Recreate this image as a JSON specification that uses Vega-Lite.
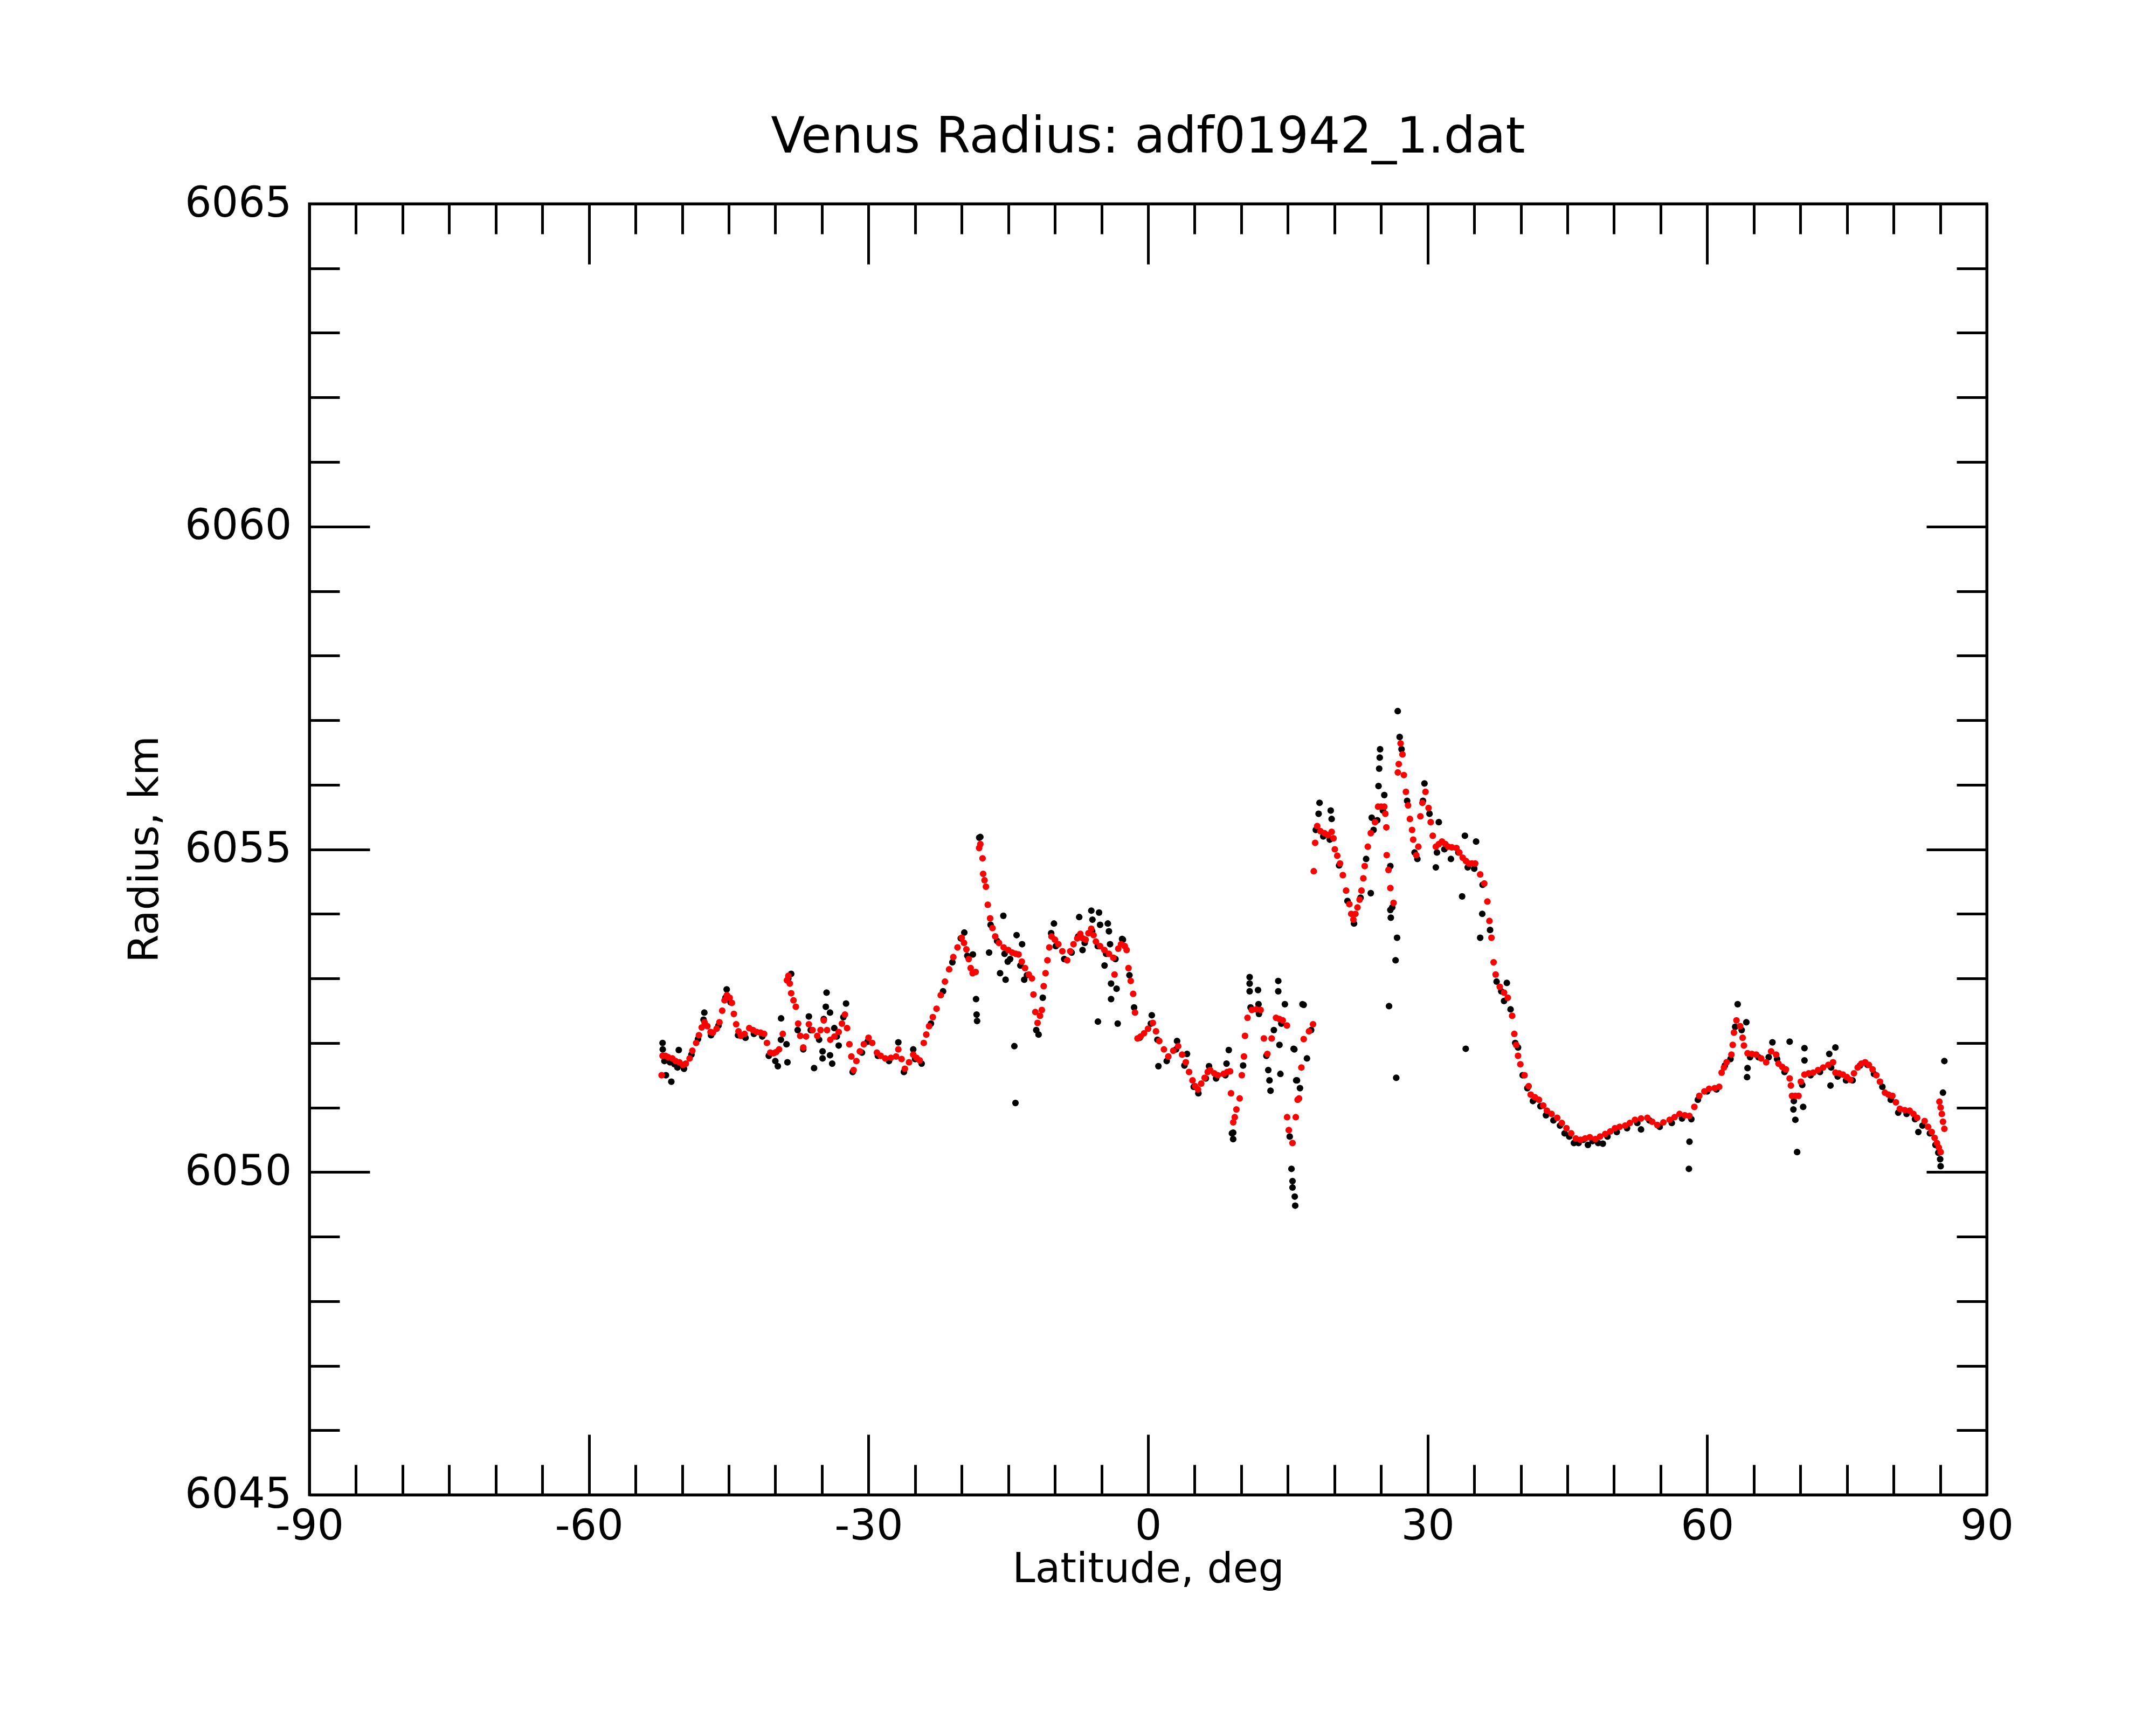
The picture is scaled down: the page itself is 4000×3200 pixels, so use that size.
{
  "$schema": "https://vega.github.io/schema/vega-lite/v6.json",
  "width": 3112,
  "height": 2395,
  "autosize": {"type": "none"},
  "padding": {"left": 574, "top": 378, "right": 314, "bottom": 427},
  "background": "white",
  "title": {
    "text": "Venus Radius: adf01942_1.dat",
    "font": "DejaVu Sans",
    "fontSize": 92,
    "fontWeight": "normal",
    "color": "black",
    "anchor": "middle",
    "baseline": "alphabetic",
    "offset": -36
  },
  "config": {
    "view": {"stroke": "black", "strokeWidth": 5},
    "axis": {
      "grid": false,
      "domainColor": "black",
      "domainWidth": 5,
      "tickColor": "black",
      "tickWidth": 5,
      "labelFont": "DejaVu Sans",
      "labelFontSize": 78,
      "labelColor": "black",
      "labelLimit": 0,
      "labelFlush": false,
      "labelOverlap": false,
      "titleFont": "DejaVu Sans",
      "titleFontSize": 76,
      "titleFontWeight": "normal",
      "titleColor": "black"
    }
  },
  "datasets": {
    "raw": [
      {"lat": -52.1, "radius": 6052.0}, {"lat": -52.08, "radius": 6051.9}, {"lat": -51.74, "radius": 6051.5}, {"lat": -51.16, "radius": 6051.4},
      {"lat": -50.82, "radius": 6051.67}, {"lat": -50.36, "radius": 6051.89}, {"lat": -47.62, "radius": 6052.47}, {"lat": -45.22, "radius": 6052.83},
      {"lat": -39.73, "radius": 6051.64}, {"lat": -39.38, "radius": 6052.38}, {"lat": -38.8, "radius": 6051.98}, {"lat": -38.7, "radius": 6051.7},
      {"lat": -38.3, "radius": 6053.07}, {"lat": -37.0, "radius": 6051.9}, {"lat": -36.4, "radius": 6052.41}, {"lat": -35.84, "radius": 6051.61},
      {"lat": -34.93, "radius": 6051.87}, {"lat": -34.93, "radius": 6051.76}, {"lat": -34.8, "radius": 6052.37}, {"lat": -34.58, "radius": 6052.56},
      {"lat": -34.5, "radius": 6052.78}, {"lat": -34.13, "radius": 6052.47}, {"lat": -34.13, "radius": 6051.81}, {"lat": -33.9, "radius": 6051.68},
      {"lat": -33.67, "radius": 6052.23}, {"lat": -33.2, "radius": 6051.96}, {"lat": -32.41, "radius": 6052.61}, {"lat": -26.8, "radius": 6052.01},
      {"lat": -25.2, "radius": 6051.9}, {"lat": -19.72, "radius": 6053.71}, {"lat": -18.8, "radius": 6053.37}, {"lat": -18.46, "radius": 6052.68},
      {"lat": -18.4, "radius": 6052.44}, {"lat": -18.35, "radius": 6052.34}, {"lat": -18.12, "radius": 6055.18},
      {"lat": -18.0, "radius": 6055.19}, {"lat": -17.06, "radius": 6053.4}, {"lat": -15.53, "radius": 6053.97}, {"lat": -15.88, "radius": 6053.08},
      {"lat": -15.29, "radius": 6052.98}, {"lat": -15.06, "radius": 6053.26}, {"lat": -14.35, "radius": 6051.95}, {"lat": -14.23, "radius": 6051.07},
      {"lat": -14.11, "radius": 6053.67}, {"lat": -13.52, "radius": 6053.53}, {"lat": -13.29, "radius": 6052.98}, {"lat": -11.75, "radius": 6052.13},
      {"lat": -10.1, "radius": 6053.85}, {"lat": -7.39, "radius": 6053.95}, {"lat": -7.03, "radius": 6053.44}, {"lat": -6.09, "radius": 6054.05},
      {"lat": -5.97, "radius": 6053.91}, {"lat": -5.38, "radius": 6052.33}, {"lat": -5.26, "radius": 6054.02}, {"lat": -5.15, "radius": 6053.83},
      {"lat": -4.67, "radius": 6053.2}, {"lat": -4.32, "radius": 6053.85}, {"lat": -4.2, "radius": 6053.73}, {"lat": -4.08, "radius": 6053.53},
      {"lat": -3.97, "radius": 6052.92}, {"lat": -3.97, "radius": 6052.68}, {"lat": -3.38, "radius": 6052.84}, {"lat": -3.26, "radius": 6052.3},
      {"lat": -2.79, "radius": 6053.61}, {"lat": 0.4, "radius": 6052.43}, {"lat": 1.11, "radius": 6051.64}, {"lat": 3.11, "radius": 6052.03},
      {"lat": 4.18, "radius": 6051.83}, {"lat": 6.54, "radius": 6051.64}, {"lat": 8.42, "radius": 6051.68}, {"lat": 8.66, "radius": 6051.89},
      {"lat": 9.13, "radius": 6050.61}, {"lat": 9.13, "radius": 6050.51}, {"lat": 10.9, "radius": 6053.02}, {"lat": 10.9, "radius": 6052.92},
      {"lat": 10.9, "radius": 6052.8}, {"lat": 11.8, "radius": 6052.82}, {"lat": 11.85, "radius": 6052.6}, {"lat": 12.9, "radius": 6051.58},
      {"lat": 13.03, "radius": 6051.42}, {"lat": 13.14, "radius": 6051.26}, {"lat": 13.97, "radius": 6052.96}, {"lat": 13.97, "radius": 6052.8},
      {"lat": 14.1, "radius": 6051.97}, {"lat": 14.2, "radius": 6051.52}, {"lat": 14.68, "radius": 6052.6}, {"lat": 15.39, "radius": 6050.05},
      {"lat": 15.5, "radius": 6049.86}, {"lat": 15.5, "radius": 6049.76}, {"lat": 15.62, "radius": 6051.91}, {"lat": 15.74, "radius": 6049.62},
      {"lat": 15.79, "radius": 6049.48}, {"lat": 15.98, "radius": 6051.42}, {"lat": 16.57, "radius": 6052.6},
      {"lat": 15.7, "radius": 6051.9}, {"lat": 15.9, "radius": 6051.42}, {"lat": 16.7, "radius": 6052.59}, {"lat": 17.05, "radius": 6051.76},
      {"lat": 18.3, "radius": 6055.55}, {"lat": 18.4, "radius": 6055.72}, {"lat": 19.6, "radius": 6055.6}, {"lat": 19.7, "radius": 6055.47},
      {"lat": 23.9, "radius": 6054.32}, {"lat": 24.0, "radius": 6055.49}, {"lat": 24.73, "radius": 6055.98}, {"lat": 24.8, "radius": 6056.25},
      {"lat": 24.86, "radius": 6056.42}, {"lat": 24.9, "radius": 6056.55}, {"lat": 25.35, "radius": 6055.84}, {"lat": 25.86, "radius": 6052.57},
      {"lat": 26.0, "radius": 6054.74}, {"lat": 26.0, "radius": 6054.06}, {"lat": 26.05, "radius": 6053.94}, {"lat": 26.56, "radius": 6053.28},
      {"lat": 26.63, "radius": 6051.46}, {"lat": 26.72, "radius": 6053.63}, {"lat": 26.79, "radius": 6057.14}, {"lat": 27.0, "radius": 6056.74},
      {"lat": 29.66, "radius": 6056.02}, {"lat": 30.88, "radius": 6054.72}, {"lat": 31.2, "radius": 6055.42}, {"lat": 33.7, "radius": 6054.27},
      {"lat": 34.0, "radius": 6055.21}, {"lat": 34.09, "radius": 6051.91}, {"lat": 35.2, "radius": 6055.12}, {"lat": 35.64, "radius": 6053.63},
      {"lat": 35.86, "radius": 6054.0}, {"lat": 38.2, "radius": 6052.65}, {"lat": 38.5, "radius": 6052.93}, {"lat": 39.7, "radius": 6051.93},
      {"lat": 48.8, "radius": 6050.44}, {"lat": 52.9, "radius": 6050.66}, {"lat": 58.04, "radius": 6050.05}, {"lat": 58.1, "radius": 6050.47},
      {"lat": 63.27, "radius": 6052.6}, {"lat": 64.2, "radius": 6052.32}, {"lat": 64.28, "radius": 6051.47}, {"lat": 64.33, "radius": 6051.61},
      {"lat": 67.0, "radius": 6052.01}, {"lat": 68.85, "radius": 6052.02}, {"lat": 69.25, "radius": 6050.97}, {"lat": 69.46, "radius": 6050.81},
      {"lat": 69.65, "radius": 6050.31}, {"lat": 70.3, "radius": 6051.01}, {"lat": 70.44, "radius": 6051.92}, {"lat": 70.44, "radius": 6051.73},
      {"lat": 73.1, "radius": 6051.83}, {"lat": 73.23, "radius": 6051.34}, {"lat": 73.76, "radius": 6051.93}, {"lat": 82.66, "radius": 6050.62},
      {"lat": 85.05, "radius": 6050.09}, {"lat": 85.3, "radius": 6051.23}, {"lat": 85.45, "radius": 6051.72},
      {"lat": -51.9, "radius": 6051.72}, {"lat": -51.3, "radius": 6051.7}, {"lat": -50.5, "radius": 6051.62}, {"lat": -49.8, "radius": 6051.6},
      {"lat": -49.0, "radius": 6051.82}, {"lat": -48.3, "radius": 6052.06}, {"lat": -47.7, "radius": 6052.36}, {"lat": -46.9, "radius": 6052.12},
      {"lat": -46.1, "radius": 6052.27}, {"lat": -45.35, "radius": 6052.7}, {"lat": -44.8, "radius": 6052.63}, {"lat": -44.0, "radius": 6052.12},
      {"lat": -43.2, "radius": 6052.08}, {"lat": -42.3, "radius": 6052.14}, {"lat": -41.4, "radius": 6052.1}, {"lat": -40.7, "radius": 6051.8},
      {"lat": -40.0, "radius": 6051.72}, {"lat": -39.4, "radius": 6052.05}, {"lat": -38.6, "radius": 6053.0}, {"lat": -37.6, "radius": 6052.2},
      {"lat": -36.2, "radius": 6052.2}, {"lat": -35.3, "radius": 6052.05}, {"lat": -33.4, "radius": 6052.1}, {"lat": -32.7, "radius": 6052.4},
      {"lat": -31.7, "radius": 6051.55}, {"lat": -30.7, "radius": 6051.85}, {"lat": -30.1, "radius": 6052.02}, {"lat": -29.0, "radius": 6051.8},
      {"lat": -27.8, "radius": 6051.72}, {"lat": -26.2, "radius": 6051.55}, {"lat": -25.0, "radius": 6051.75}, {"lat": -24.3, "radius": 6051.68},
      {"lat": -23.3, "radius": 6052.3}, {"lat": -22.0, "radius": 6052.8}, {"lat": -21.0, "radius": 6053.25}, {"lat": -20.1, "radius": 6053.62},
      {"lat": -19.4, "radius": 6053.35}, {"lat": -16.9, "radius": 6053.83}, {"lat": -16.2, "radius": 6053.58}, {"lat": -15.4, "radius": 6053.38},
      {"lat": -14.8, "radius": 6053.3}, {"lat": -13.7, "radius": 6053.2}, {"lat": -13.0, "radius": 6053.05}, {"lat": -12.0, "radius": 6052.2},
      {"lat": -11.3, "radius": 6052.7}, {"lat": -10.4, "radius": 6053.7}, {"lat": -9.9, "radius": 6053.5}, {"lat": -9.0, "radius": 6053.3},
      {"lat": -8.2, "radius": 6053.4}, {"lat": -7.5, "radius": 6053.65}, {"lat": -6.8, "radius": 6053.55}, {"lat": -6.0, "radius": 6053.73},
      {"lat": -5.4, "radius": 6053.5}, {"lat": -4.5, "radius": 6053.38}, {"lat": -3.5, "radius": 6053.3}, {"lat": -2.7, "radius": 6053.6},
      {"lat": -2.0, "radius": 6053.05}, {"lat": -1.5, "radius": 6052.55}, {"lat": -0.9, "radius": 6052.08}, {"lat": 0.3, "radius": 6052.3},
      {"lat": 1.0, "radius": 6052.05}, {"lat": 2.0, "radius": 6051.72}, {"lat": 3.0, "radius": 6051.9}, {"lat": 3.9, "radius": 6051.65},
      {"lat": 4.9, "radius": 6051.32}, {"lat": 5.4, "radius": 6051.22}, {"lat": 6.2, "radius": 6051.45}, {"lat": 7.3, "radius": 6051.45},
      {"lat": 8.3, "radius": 6051.5}, {"lat": 9.0, "radius": 6050.6}, {"lat": 10.2, "radius": 6051.65}, {"lat": 11.0, "radius": 6052.55},
      {"lat": 11.9, "radius": 6052.45}, {"lat": 12.7, "radius": 6051.8}, {"lat": 13.5, "radius": 6052.2}, {"lat": 14.3, "radius": 6052.3},
      {"lat": 15.2, "radius": 6050.55}, {"lat": 16.3, "radius": 6051.3}, {"lat": 17.5, "radius": 6052.2}, {"lat": 18.0, "radius": 6055.3},
      {"lat": 18.8, "radius": 6055.2}, {"lat": 19.5, "radius": 6055.15}, {"lat": 20.5, "radius": 6054.75}, {"lat": 21.4, "radius": 6054.2},
      {"lat": 22.1, "radius": 6053.85}, {"lat": 22.8, "radius": 6054.25}, {"lat": 23.4, "radius": 6054.85}, {"lat": 24.2, "radius": 6055.3},
      {"lat": 24.6, "radius": 6055.45}, {"lat": 25.2, "radius": 6055.6}, {"lat": 26.2, "radius": 6054.1}, {"lat": 27.2, "radius": 6056.55},
      {"lat": 27.8, "radius": 6055.75}, {"lat": 28.6, "radius": 6054.95}, {"lat": 28.9, "radius": 6054.85}, {"lat": 29.5, "radius": 6055.75},
      {"lat": 30.2, "radius": 6055.55}, {"lat": 31.0, "radius": 6054.95}, {"lat": 31.8, "radius": 6055.0}, {"lat": 32.5, "radius": 6054.85},
      {"lat": 33.3, "radius": 6054.95}, {"lat": 34.3, "radius": 6054.72}, {"lat": 35.0, "radius": 6054.7}, {"lat": 35.9, "radius": 6054.45},
      {"lat": 36.7, "radius": 6053.75}, {"lat": 37.4, "radius": 6052.95}, {"lat": 37.9, "radius": 6052.8}, {"lat": 38.9, "radius": 6052.52},
      {"lat": 39.4, "radius": 6052.0}, {"lat": 40.2, "radius": 6051.5}, {"lat": 40.7, "radius": 6051.3}, {"lat": 41.3, "radius": 6051.1},
      {"lat": 42.1, "radius": 6051.02}, {"lat": 42.7, "radius": 6050.88}, {"lat": 43.5, "radius": 6050.8}, {"lat": 44.2, "radius": 6050.72},
      {"lat": 44.7, "radius": 6050.6}, {"lat": 45.2, "radius": 6050.55}, {"lat": 45.7, "radius": 6050.45}, {"lat": 46.2, "radius": 6050.45},
      {"lat": 46.7, "radius": 6050.5}, {"lat": 47.2, "radius": 6050.42}, {"lat": 47.7, "radius": 6050.48}, {"lat": 48.3, "radius": 6050.45},
      {"lat": 49.3, "radius": 6050.55}, {"lat": 50.3, "radius": 6050.62}, {"lat": 51.4, "radius": 6050.68}, {"lat": 52.5, "radius": 6050.76},
      {"lat": 53.8, "radius": 6050.8}, {"lat": 54.9, "radius": 6050.7}, {"lat": 56.2, "radius": 6050.76}, {"lat": 57.3, "radius": 6050.83},
      {"lat": 58.3, "radius": 6050.82}, {"lat": 59.0, "radius": 6051.12}, {"lat": 60.0, "radius": 6051.25}, {"lat": 61.0, "radius": 6051.28},
      {"lat": 61.9, "radius": 6051.65}, {"lat": 62.5, "radius": 6051.75}, {"lat": 63.0, "radius": 6052.25}, {"lat": 63.7, "radius": 6052.2},
      {"lat": 64.6, "radius": 6051.78}, {"lat": 65.5, "radius": 6051.78}, {"lat": 66.6, "radius": 6051.78}, {"lat": 67.5, "radius": 6051.75},
      {"lat": 68.3, "radius": 6051.55}, {"lat": 69.3, "radius": 6051.1}, {"lat": 70.2, "radius": 6051.35}, {"lat": 71.1, "radius": 6051.5},
      {"lat": 72.1, "radius": 6051.55}, {"lat": 73.3, "radius": 6051.62}, {"lat": 74.0, "radius": 6051.48}, {"lat": 74.9, "radius": 6051.42},
      {"lat": 75.6, "radius": 6051.42}, {"lat": 76.4, "radius": 6051.65}, {"lat": 77.2, "radius": 6051.66}, {"lat": 77.9, "radius": 6051.52},
      {"lat": 78.8, "radius": 6051.32}, {"lat": 79.7, "radius": 6051.12}, {"lat": 80.5, "radius": 6050.92}, {"lat": 81.4, "radius": 6050.9},
      {"lat": 82.3, "radius": 6050.82}, {"lat": 83.1, "radius": 6050.72}, {"lat": 83.9, "radius": 6050.6}, {"lat": 84.5, "radius": 6050.42},
      {"lat": 84.8, "radius": 6050.3}, {"lat": 85.0, "radius": 6050.2}
    ],
    "fit": [
      {"lat": -52.2, "radius": 6051.5}, {"lat": -52.1, "radius": 6051.8}, {"lat": -51.8, "radius": 6051.8}, {"lat": -51.5, "radius": 6051.78},
      {"lat": -51.05, "radius": 6051.76}, {"lat": -50.7, "radius": 6051.72}, {"lat": -50.3, "radius": 6051.7}, {"lat": -49.9, "radius": 6051.66},
      {"lat": -49.6, "radius": 6051.68}, {"lat": -49.2, "radius": 6051.76}, {"lat": -48.9, "radius": 6051.88}, {"lat": -48.5, "radius": 6052.0},
      {"lat": -48.2, "radius": 6052.12}, {"lat": -47.9, "radius": 6052.24}, {"lat": -47.6, "radius": 6052.32}, {"lat": -47.3, "radius": 6052.26},
      {"lat": -46.95, "radius": 6052.17}, {"lat": -46.7, "radius": 6052.16}, {"lat": -46.3, "radius": 6052.22}, {"lat": -46.0, "radius": 6052.32},
      {"lat": -45.7, "radius": 6052.5}, {"lat": -45.45, "radius": 6052.66}, {"lat": -45.2, "radius": 6052.74}, {"lat": -44.9, "radius": 6052.7},
      {"lat": -44.66, "radius": 6052.62}, {"lat": -44.45, "radius": 6052.45}, {"lat": -44.2, "radius": 6052.29}, {"lat": -43.95, "radius": 6052.18},
      {"lat": -43.7, "radius": 6052.11}, {"lat": -43.3, "radius": 6052.14}, {"lat": -42.8, "radius": 6052.23}, {"lat": -42.4, "radius": 6052.2},
      {"lat": -42.0, "radius": 6052.17}, {"lat": -41.6, "radius": 6052.16}, {"lat": -41.2, "radius": 6052.14}, {"lat": -40.9, "radius": 6052.0},
      {"lat": -40.55, "radius": 6051.85}, {"lat": -40.2, "radius": 6051.84}, {"lat": -39.9, "radius": 6051.86}, {"lat": -39.6, "radius": 6051.9},
      {"lat": -39.2, "radius": 6052.14}, {"lat": -38.75, "radius": 6052.97}, {"lat": -38.6, "radius": 6053.04}, {"lat": -38.45, "radius": 6052.92},
      {"lat": -38.3, "radius": 6052.77}, {"lat": -38.05, "radius": 6052.66}, {"lat": -37.8, "radius": 6052.56}, {"lat": -37.55, "radius": 6052.3},
      {"lat": -37.33, "radius": 6052.11}, {"lat": -37.0, "radius": 6051.93}, {"lat": -36.7, "radius": 6052.1}, {"lat": -36.4, "radius": 6052.29},
      {"lat": -36.0, "radius": 6052.2}, {"lat": -35.5, "radius": 6052.11}, {"lat": -35.15, "radius": 6052.2}, {"lat": -34.8, "radius": 6052.35},
      {"lat": -34.45, "radius": 6052.2}, {"lat": -34.1, "radius": 6052.05}, {"lat": -33.65, "radius": 6052.1}, {"lat": -33.2, "radius": 6052.17},
      {"lat": -32.85, "radius": 6052.3}, {"lat": -32.53, "radius": 6052.44}, {"lat": -32.3, "radius": 6052.23}, {"lat": -32.05, "radius": 6051.98},
      {"lat": -31.84, "radius": 6051.79}, {"lat": -31.6, "radius": 6051.58}, {"lat": -31.3, "radius": 6051.72}, {"lat": -30.93, "radius": 6051.87},
      {"lat": -30.5, "radius": 6051.98}, {"lat": -30.0, "radius": 6052.08}, {"lat": -29.6, "radius": 6052.0}, {"lat": -29.1, "radius": 6051.85},
      {"lat": -28.7, "radius": 6051.8}, {"lat": -28.2, "radius": 6051.76}, {"lat": -27.6, "radius": 6051.77}, {"lat": -27.04, "radius": 6051.79},
      {"lat": -26.8, "radius": 6051.9}, {"lat": -26.45, "radius": 6051.75}, {"lat": -26.1, "radius": 6051.6}, {"lat": -25.65, "radius": 6051.7},
      {"lat": -25.2, "radius": 6051.82}, {"lat": -24.85, "radius": 6051.77}, {"lat": -24.5, "radius": 6051.73}, {"lat": -24.07, "radius": 6052.0},
      {"lat": -23.8, "radius": 6052.13}, {"lat": -23.5, "radius": 6052.26}, {"lat": -23.1, "radius": 6052.4}, {"lat": -22.7, "radius": 6052.53},
      {"lat": -22.25, "radius": 6052.74}, {"lat": -21.8, "radius": 6052.95}, {"lat": -21.35, "radius": 6053.14}, {"lat": -20.9, "radius": 6053.33},
      {"lat": -20.45, "radius": 6053.48}, {"lat": -20.0, "radius": 6053.63}, {"lat": -19.75, "radius": 6053.55}, {"lat": -19.5, "radius": 6053.45},
      {"lat": -19.25, "radius": 6053.3}, {"lat": -19.04, "radius": 6053.16}, {"lat": -18.83, "radius": 6053.08}, {"lat": -18.5, "radius": 6053.1},
      {"lat": -18.13, "radius": 6055.02}, {"lat": -18.0, "radius": 6055.08}, {"lat": -17.76, "radius": 6054.86}, {"lat": -17.7, "radius": 6054.62},
      {"lat": -17.55, "radius": 6054.52}, {"lat": -17.4, "radius": 6054.42}, {"lat": -17.2, "radius": 6054.14}, {"lat": -16.95, "radius": 6053.93},
      {"lat": -16.7, "radius": 6053.78}, {"lat": -16.4, "radius": 6053.65}, {"lat": -16.0, "radius": 6053.55}, {"lat": -15.5, "radius": 6053.48},
      {"lat": -15.0, "radius": 6053.44}, {"lat": -14.58, "radius": 6053.4}, {"lat": -14.2, "radius": 6053.38}, {"lat": -13.9, "radius": 6053.37},
      {"lat": -13.55, "radius": 6053.26}, {"lat": -13.2, "radius": 6053.16}, {"lat": -12.8, "radius": 6053.06}, {"lat": -12.46, "radius": 6053.0},
      {"lat": -12.3, "radius": 6052.75}, {"lat": -12.1, "radius": 6052.48}, {"lat": -11.86, "radius": 6052.31}, {"lat": -11.6, "radius": 6052.42},
      {"lat": -11.4, "radius": 6052.51}, {"lat": -11.2, "radius": 6052.88}, {"lat": -11.0, "radius": 6053.08}, {"lat": -10.8, "radius": 6053.28},
      {"lat": -10.6, "radius": 6053.48}, {"lat": -10.36, "radius": 6053.65}, {"lat": -10.0, "radius": 6053.6}, {"lat": -9.63, "radius": 6053.53},
      {"lat": -9.2, "radius": 6053.42}, {"lat": -8.68, "radius": 6053.28}, {"lat": -8.35, "radius": 6053.42}, {"lat": -8.0, "radius": 6053.53},
      {"lat": -7.6, "radius": 6053.62}, {"lat": -7.27, "radius": 6053.69}, {"lat": -7.0, "radius": 6053.62}, {"lat": -6.7, "radius": 6053.6},
      {"lat": -6.4, "radius": 6053.7}, {"lat": -6.1, "radius": 6053.77}, {"lat": -5.85, "radius": 6053.67}, {"lat": -5.6, "radius": 6053.57},
      {"lat": -5.15, "radius": 6053.5}, {"lat": -4.69, "radius": 6053.44}, {"lat": -4.2, "radius": 6053.38}, {"lat": -3.73, "radius": 6053.32},
      {"lat": -3.6, "radius": 6053.06}, {"lat": -3.2, "radius": 6053.46}, {"lat": -2.9, "radius": 6053.53}, {"lat": -2.5, "radius": 6053.5},
      {"lat": -2.3, "radius": 6053.44}, {"lat": -2.1, "radius": 6053.16}, {"lat": -1.86, "radius": 6052.96}, {"lat": -1.6, "radius": 6052.76},
      {"lat": -1.4, "radius": 6052.47}, {"lat": -1.13, "radius": 6052.07}, {"lat": -0.8, "radius": 6052.1}, {"lat": -0.43, "radius": 6052.15},
      {"lat": 0.0, "radius": 6052.22}, {"lat": 0.51, "radius": 6052.31}, {"lat": 0.85, "radius": 6052.18}, {"lat": 1.2, "radius": 6052.03},
      {"lat": 1.7, "radius": 6051.9}, {"lat": 2.17, "radius": 6051.79}, {"lat": 2.7, "radius": 6051.88}, {"lat": 3.23, "radius": 6051.95},
      {"lat": 3.65, "radius": 6051.82}, {"lat": 4.05, "radius": 6051.7}, {"lat": 4.4, "radius": 6051.55}, {"lat": 4.77, "radius": 6051.42},
      {"lat": 5.05, "radius": 6051.33}, {"lat": 5.36, "radius": 6051.28}, {"lat": 5.7, "radius": 6051.37}, {"lat": 6.07, "radius": 6051.46},
      {"lat": 6.4, "radius": 6051.55}, {"lat": 6.66, "radius": 6051.58}, {"lat": 7.1, "radius": 6051.53}, {"lat": 7.48, "radius": 6051.5},
      {"lat": 8.1, "radius": 6051.52}, {"lat": 8.5, "radius": 6051.55}, {"lat": 8.8, "radius": 6051.56}, {"lat": 8.9, "radius": 6051.22},
      {"lat": 9.14, "radius": 6050.77}, {"lat": 9.3, "radius": 6050.85}, {"lat": 9.48, "radius": 6050.97}, {"lat": 9.83, "radius": 6051.14},
      {"lat": 10.06, "radius": 6051.5}, {"lat": 10.29, "radius": 6051.79}, {"lat": 10.4, "radius": 6052.11}, {"lat": 10.67, "radius": 6052.39},
      {"lat": 11.13, "radius": 6052.51}, {"lat": 11.6, "radius": 6052.52}, {"lat": 12.08, "radius": 6052.51}, {"lat": 12.43, "radius": 6052.07},
      {"lat": 12.8, "radius": 6051.83}, {"lat": 13.26, "radius": 6052.07}, {"lat": 13.73, "radius": 6052.39}, {"lat": 14.1, "radius": 6052.37},
      {"lat": 14.45, "radius": 6052.35}, {"lat": 14.9, "radius": 6052.27}, {"lat": 14.92, "radius": 6050.85}, {"lat": 15.1, "radius": 6050.65},
      {"lat": 15.5, "radius": 6050.45}, {"lat": 15.85, "radius": 6050.85}, {"lat": 16.05, "radius": 6051.12}, {"lat": 16.2, "radius": 6051.14},
      {"lat": 16.45, "radius": 6051.62}, {"lat": 16.7, "radius": 6052.06}, {"lat": 17.27, "radius": 6052.18}, {"lat": 17.7, "radius": 6052.29},
      {"lat": 17.78, "radius": 6054.66}, {"lat": 17.93, "radius": 6055.1}, {"lat": 18.15, "radius": 6055.36}, {"lat": 18.5, "radius": 6055.28},
      {"lat": 18.93, "radius": 6055.25}, {"lat": 19.3, "radius": 6055.22}, {"lat": 19.7, "radius": 6055.27}, {"lat": 19.9, "radius": 6055.17},
      {"lat": 20.04, "radius": 6055.0}, {"lat": 20.3, "radius": 6054.9}, {"lat": 20.6, "radius": 6054.78}, {"lat": 20.9, "radius": 6054.6},
      {"lat": 21.25, "radius": 6054.36}, {"lat": 21.6, "radius": 6054.15}, {"lat": 21.8, "radius": 6054.0}, {"lat": 22.03, "radius": 6053.91},
      {"lat": 22.25, "radius": 6054.0}, {"lat": 22.47, "radius": 6054.1}, {"lat": 22.7, "radius": 6054.22}, {"lat": 22.9, "radius": 6054.36},
      {"lat": 23.1, "radius": 6054.55}, {"lat": 23.25, "radius": 6054.74}, {"lat": 23.58, "radius": 6055.04}, {"lat": 23.9, "radius": 6055.25},
      {"lat": 24.35, "radius": 6055.42}, {"lat": 24.68, "radius": 6055.66}, {"lat": 25.0, "radius": 6055.66}, {"lat": 25.35, "radius": 6055.66},
      {"lat": 25.46, "radius": 6055.55}, {"lat": 25.57, "radius": 6055.34}, {"lat": 25.61, "radius": 6054.91}, {"lat": 25.8, "radius": 6054.68},
      {"lat": 26.0, "radius": 6054.4}, {"lat": 26.34, "radius": 6054.17}, {"lat": 26.8, "radius": 6056.19}, {"lat": 26.9, "radius": 6056.32},
      {"lat": 27.1, "radius": 6056.64}, {"lat": 27.3, "radius": 6056.47}, {"lat": 27.45, "radius": 6056.15}, {"lat": 27.67, "radius": 6055.89},
      {"lat": 27.9, "radius": 6055.68}, {"lat": 28.1, "radius": 6055.47}, {"lat": 28.33, "radius": 6055.3}, {"lat": 28.45, "radius": 6055.15},
      {"lat": 28.78, "radius": 6054.91}, {"lat": 29.0, "radius": 6055.04}, {"lat": 29.22, "radius": 6055.51}, {"lat": 29.44, "radius": 6055.72},
      {"lat": 29.77, "radius": 6055.89}, {"lat": 30.1, "radius": 6055.64}, {"lat": 30.33, "radius": 6055.42}, {"lat": 30.55, "radius": 6055.21},
      {"lat": 30.88, "radius": 6055.04}, {"lat": 31.2, "radius": 6055.08}, {"lat": 31.54, "radius": 6055.12}, {"lat": 31.9, "radius": 6055.08},
      {"lat": 32.2, "radius": 6055.04}, {"lat": 32.6, "radius": 6055.03}, {"lat": 33.1, "radius": 6055.02}, {"lat": 33.4, "radius": 6054.95},
      {"lat": 33.76, "radius": 6054.87}, {"lat": 34.1, "radius": 6054.82}, {"lat": 34.42, "radius": 6054.78}, {"lat": 34.75, "radius": 6054.78},
      {"lat": 35.1, "radius": 6054.78}, {"lat": 35.64, "radius": 6054.61}, {"lat": 36.08, "radius": 6054.47}, {"lat": 36.41, "radius": 6054.19},
      {"lat": 36.63, "radius": 6053.89}, {"lat": 36.85, "radius": 6053.63}, {"lat": 37.08, "radius": 6053.25}, {"lat": 37.3, "radius": 6053.06},
      {"lat": 37.74, "radius": 6052.87}, {"lat": 38.2, "radius": 6052.78}, {"lat": 38.6, "radius": 6052.7}, {"lat": 39.07, "radius": 6052.42},
      {"lat": 39.3, "radius": 6052.14}, {"lat": 39.5, "radius": 6051.97}, {"lat": 39.7, "radius": 6051.8}, {"lat": 39.95, "radius": 6051.67},
      {"lat": 40.4, "radius": 6051.5}, {"lat": 40.84, "radius": 6051.33}, {"lat": 41.06, "radius": 6051.2}, {"lat": 41.5, "radius": 6051.16},
      {"lat": 41.94, "radius": 6051.12}, {"lat": 42.4, "radius": 6051.03}, {"lat": 42.8, "radius": 6050.95}, {"lat": 43.3, "radius": 6050.9},
      {"lat": 43.9, "radius": 6050.84}, {"lat": 44.4, "radius": 6050.76}, {"lat": 44.9, "radius": 6050.68}, {"lat": 45.4, "radius": 6050.6},
      {"lat": 45.9, "radius": 6050.52}, {"lat": 46.4, "radius": 6050.5}, {"lat": 46.9, "radius": 6050.52}, {"lat": 47.4, "radius": 6050.54},
      {"lat": 48.0, "radius": 6050.51}, {"lat": 48.5, "radius": 6050.55}, {"lat": 49.06, "radius": 6050.59}, {"lat": 49.6, "radius": 6050.63},
      {"lat": 50.1, "radius": 6050.68}, {"lat": 50.6, "radius": 6050.7}, {"lat": 51.2, "radius": 6050.72}, {"lat": 51.7, "radius": 6050.76},
      {"lat": 52.25, "radius": 6050.81}, {"lat": 52.9, "radius": 6050.83}, {"lat": 53.58, "radius": 6050.84}, {"lat": 54.1, "radius": 6050.78},
      {"lat": 54.64, "radius": 6050.73}, {"lat": 55.3, "radius": 6050.77}, {"lat": 55.97, "radius": 6050.81}, {"lat": 56.5, "radius": 6050.85},
      {"lat": 57.03, "radius": 6050.9}, {"lat": 57.6, "radius": 6050.88}, {"lat": 58.09, "radius": 6050.87}, {"lat": 58.62, "radius": 6051.01},
      {"lat": 59.15, "radius": 6051.18}, {"lat": 59.7, "radius": 6051.25}, {"lat": 60.2, "radius": 6051.29}, {"lat": 60.8, "radius": 6051.3},
      {"lat": 61.28, "radius": 6051.32}, {"lat": 61.55, "radius": 6051.54}, {"lat": 61.8, "radius": 6051.62}, {"lat": 62.08, "radius": 6051.7},
      {"lat": 62.6, "radius": 6051.82}, {"lat": 62.74, "radius": 6051.97}, {"lat": 62.87, "radius": 6052.16}, {"lat": 63.14, "radius": 6052.35},
      {"lat": 63.54, "radius": 6052.26}, {"lat": 63.8, "radius": 6052.08}, {"lat": 63.94, "radius": 6051.96}, {"lat": 64.33, "radius": 6051.84},
      {"lat": 64.8, "radius": 6051.83}, {"lat": 65.26, "radius": 6051.82}, {"lat": 65.8, "radius": 6051.76}, {"lat": 66.33, "radius": 6051.7},
      {"lat": 66.86, "radius": 6051.87}, {"lat": 67.4, "radius": 6051.82}, {"lat": 67.65, "radius": 6051.68}, {"lat": 68.05, "radius": 6051.63},
      {"lat": 68.45, "radius": 6051.59}, {"lat": 68.85, "radius": 6051.45}, {"lat": 68.98, "radius": 6051.34}, {"lat": 69.1, "radius": 6051.18},
      {"lat": 69.45, "radius": 6051.18}, {"lat": 69.8, "radius": 6051.18}, {"lat": 70.05, "radius": 6051.4}, {"lat": 70.44, "radius": 6051.51},
      {"lat": 70.9, "radius": 6051.53}, {"lat": 71.37, "radius": 6051.54}, {"lat": 71.9, "radius": 6051.58}, {"lat": 72.44, "radius": 6051.62},
      {"lat": 73.0, "radius": 6051.66}, {"lat": 73.5, "radius": 6051.7}, {"lat": 73.76, "radius": 6051.54}, {"lat": 74.15, "radius": 6051.53},
      {"lat": 74.56, "radius": 6051.51}, {"lat": 75.0, "radius": 6051.47}, {"lat": 75.36, "radius": 6051.43}, {"lat": 75.75, "radius": 6051.53},
      {"lat": 76.15, "radius": 6051.62}, {"lat": 76.55, "radius": 6051.68}, {"lat": 76.95, "radius": 6051.7}, {"lat": 77.35, "radius": 6051.66},
      {"lat": 77.75, "radius": 6051.59}, {"lat": 78.15, "radius": 6051.5}, {"lat": 78.54, "radius": 6051.4}, {"lat": 79.07, "radius": 6051.23},
      {"lat": 79.45, "radius": 6051.2}, {"lat": 79.87, "radius": 6051.18}, {"lat": 80.25, "radius": 6051.08}, {"lat": 80.67, "radius": 6050.98},
      {"lat": 81.2, "radius": 6050.96}, {"lat": 81.73, "radius": 6050.95}, {"lat": 82.13, "radius": 6050.9}, {"lat": 82.53, "radius": 6050.84},
      {"lat": 83.33, "radius": 6050.79}, {"lat": 83.7, "radius": 6050.7}, {"lat": 84.1, "radius": 6050.62}, {"lat": 84.4, "radius": 6050.53},
      {"lat": 84.65, "radius": 6050.45}, {"lat": 84.85, "radius": 6050.38}, {"lat": 85.05, "radius": 6050.31}, {"lat": 84.92, "radius": 6051.09},
      {"lat": 85.05, "radius": 6051.0}, {"lat": 85.18, "radius": 6050.9}, {"lat": 85.3, "radius": 6050.78}, {"lat": 85.45, "radius": 6050.67}
    ]
  },
  "layer": [
    {
      "data": {"name": "raw"},
      "mark": {"type": "circle", "size": 150, "color": "black", "opacity": 1},
      "encoding": {
        "x": {
          "field": "lat",
          "type": "quantitative",
          "scale": {"domain": [-90, 90], "nice": false, "zero": false},
          "axis": {
            "orient": "bottom",
            "values": [-90, -85, -80, -75, -70, -65, -60, -55, -50, -45, -40, -35, -30, -25, -20, -15, -10, -5, 0, 5, 10, 15, 20, 25, 30, 35, 40, 45, 50, 55, 60, 65, 70, 75, 80, 85, 90],
            "labelExpr": "datum.value % 30 === 0 ? '' + datum.value : ''",
            "tickSize": {"condition": {"test": "datum.value % 30 === 0", "value": -112}, "value": -56},
            "labelPadding": 132,
            "title": "Latitude, deg",
            "titleX": 1556,
            "titleY": 161,
            "titleBaseline": "alphabetic"
          }
        },
        "y": {
          "field": "radius",
          "type": "quantitative",
          "scale": {"domain": [6045, 6065], "nice": false, "zero": false},
          "axis": {
            "orient": "left",
            "values": [6045, 6046, 6047, 6048, 6049, 6050, 6051, 6052, 6053, 6054, 6055, 6056, 6057, 6058, 6059, 6060, 6061, 6062, 6063, 6064, 6065],
            "labelExpr": "datum.value % 5 === 0 ? '' + datum.value : ''",
            "tickSize": {"condition": {"test": "datum.value % 5 === 0", "value": -112}, "value": -56},
            "labelPadding": 145,
            "title": "Radius, km",
            "titleX": -282,
            "titleY": 1197,
            "titleAngle": -90,
            "titleBaseline": "alphabetic"
          }
        }
      }
    },
    {
      "data": {"name": "fit"},
      "mark": {"type": "circle", "size": 150, "color": "#ff0000", "opacity": 1},
      "encoding": {
        "x": {
          "field": "lat",
          "type": "quantitative",
          "scale": {"domain": [-90, 90], "nice": false, "zero": false},
          "axis": {
            "orient": "top",
            "values": [-90, -85, -80, -75, -70, -65, -60, -55, -50, -45, -40, -35, -30, -25, -20, -15, -10, -5, 0, 5, 10, 15, 20, 25, 30, 35, 40, 45, 50, 55, 60, 65, 70, 75, 80, 85, 90],
            "labels": false,
            "tickSize": {"condition": {"test": "datum.value % 30 === 0", "value": -112}, "value": -56},
            "title": null
          }
        },
        "y": {
          "field": "radius",
          "type": "quantitative",
          "scale": {"domain": [6045, 6065], "nice": false, "zero": false},
          "axis": {
            "orient": "right",
            "values": [6045, 6046, 6047, 6048, 6049, 6050, 6051, 6052, 6053, 6054, 6055, 6056, 6057, 6058, 6059, 6060, 6061, 6062, 6063, 6064, 6065],
            "labels": false,
            "tickSize": {"condition": {"test": "datum.value % 5 === 0", "value": -112}, "value": -56},
            "title": null
          }
        }
      }
    }
  ],
  "resolve": {"axis": {"x": "independent", "y": "independent"}}
}
